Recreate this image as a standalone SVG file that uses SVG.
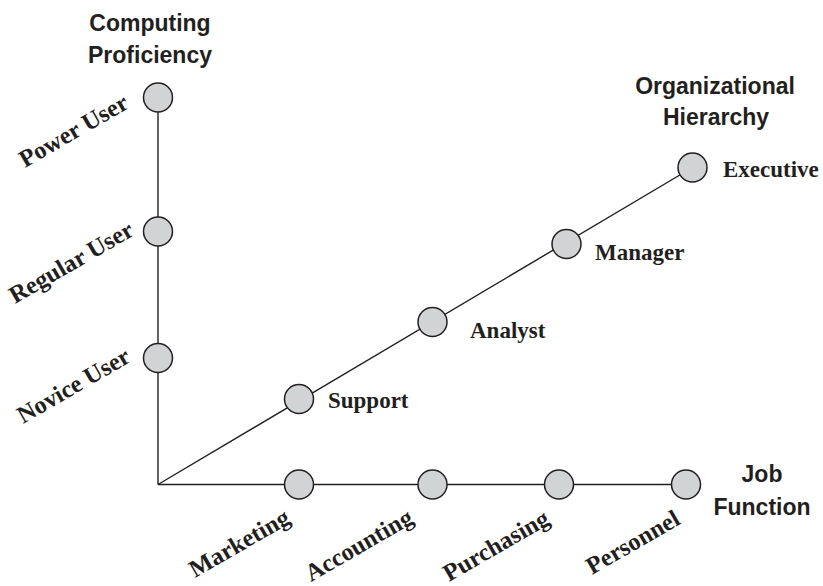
<svg xmlns="http://www.w3.org/2000/svg" width="823" height="586" viewBox="0 0 823 586">
<style>
.ax{stroke:#231f20;stroke-width:1.4;fill:none}
.nd{fill:#d1d3d4;stroke:#231f20;stroke-width:1.5}
.lb{font-family:"Liberation Serif","Times New Roman",serif;font-weight:bold;font-size:23px;fill:#231f20}
.rl{font-size:24.5px}
.tt{font-family:"Liberation Sans",Arial,sans-serif;font-weight:bold;font-size:23px;fill:#231f20;text-anchor:middle}
</style>
<rect width="823" height="586" fill="#ffffff"/>
<g id="connectors">
<line class="ax" x1="158" y1="484.5" x2="158" y2="98"/>
<line class="ax" x1="158" y1="484.5" x2="686" y2="484.5"/>
<line class="ax" x1="158" y1="484.5" x2="692.5" y2="167.5"/>
</g>
<g id="title-computing"><text class="tt" x="150" y="31">Computing</text><text class="tt" x="150" y="63">Proficiency</text></g>
<g id="title-org"><text class="tt" x="715" y="94">Organizational</text><text class="tt" x="716" y="125">Hierarchy</text></g>
<g id="title-job"><text class="tt" x="762" y="482">Job</text><text class="tt" x="762" y="515">Function</text></g>
<g id="power-user"><circle class="nd" cx="158" cy="97.5" r="14.5"/><text class="lb rl" transform="translate(25,168) rotate(-30)">Power User</text></g>
<g id="regular-user"><circle class="nd" cx="158" cy="231.5" r="14.5"/><text class="lb rl" transform="translate(15,304) rotate(-30)">Regular User</text></g>
<g id="novice-user"><circle class="nd" cx="158" cy="358" r="14.5"/><text class="lb rl" transform="translate(23,424) rotate(-30)">Novice User</text></g>
<g id="marketing"><circle class="nd" cx="299" cy="484.5" r="14.5"/><text class="lb rl" transform="translate(195,578) rotate(-30)">Marketing</text></g>
<g id="accounting"><circle class="nd" cx="432.5" cy="484.5" r="14.5"/><text class="lb rl" transform="translate(311,582) rotate(-30)">Accounting</text></g>
<g id="purchasing"><circle class="nd" cx="559" cy="484.5" r="14.5"/><text class="lb rl" transform="translate(449,582) rotate(-30)">Purchasing</text></g>
<g id="personnel"><circle class="nd" cx="686" cy="484.5" r="14.5"/><text class="lb rl" transform="translate(592,575) rotate(-30)">Personnel</text></g>
<g id="support"><circle class="nd" cx="299" cy="399" r="14.5"/><text class="lb" x="328" y="408">Support</text></g>
<g id="analyst"><circle class="nd" cx="432.5" cy="322" r="14.5"/><text class="lb" x="470" y="338">Analyst</text></g>
<g id="manager"><circle class="nd" cx="566.5" cy="244" r="14.5"/><text class="lb" x="595" y="260">Manager</text></g>
<g id="executive"><circle class="nd" cx="692.5" cy="167.5" r="14.5"/><text class="lb" x="723" y="177">Executive</text></g>
</svg>
